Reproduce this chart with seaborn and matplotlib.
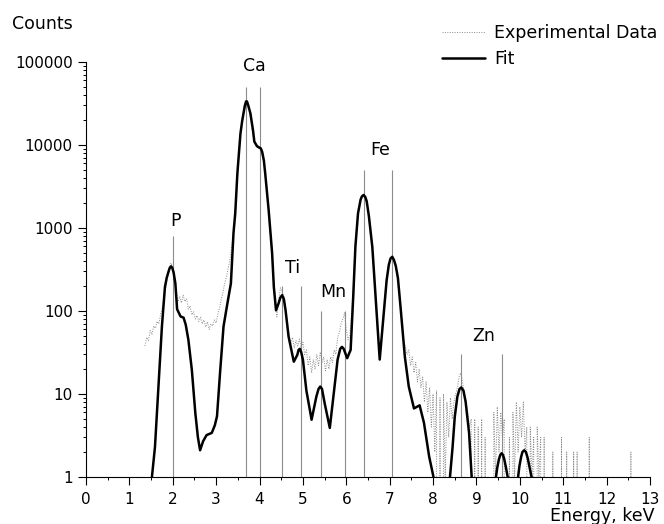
import matplotlib
matplotlib.use("Agg")
import matplotlib.pyplot as plt
import matplotlib.ticker as mticker
import numpy as np
import seaborn as sns

# ------------------ DATA ------------------
# experimental spectrum: channel counts, regular energy step
exp_start = 1.36   # keV
exp_step = 0.04    # keV per channel
exp_counts = [
    38, 48, 44, 58, 52, 66, 62, 75, 70, 92,                 # 1.36
    110, 150, 190, 260, 330, 380, 340, 250, 180, 130,       # 1.76
    150, 125, 155, 130, 140, 105, 115, 90, 98, 80,          # 2.16
    88, 75, 84, 70, 78, 64, 74, 60, 70, 66,                 # 2.56
    78, 72, 92, 110, 140, 170, 220, 260, 330, 420,          # 2.96
    600, 900, 1500, 3500, 7000, 13000, 20000, 27000, 33000, 33000,  # 3.36
    27000, 20000, 14000, 11000, 9800, 9300, 9000, 8500, 7000, 5000,  # 3.76
    3200, 1800, 1000, 520, 260, 120, 85, 130, 190, 170,     # 4.16
    150, 110, 75, 52, 40, 48, 36, 44, 38, 46,               # 4.56
    35, 42, 30, 34, 22, 28, 18, 26, 20, 30,                 # 4.96
    22, 32, 24, 28, 19, 26, 20, 28, 24, 34,                 # 5.36
    30, 48, 55, 70, 80, 95, 60, 45, 50, 90,                 # 5.76
    180, 520, 1000, 1600, 2100, 2400, 2500, 2300, 1800, 1300,  # 6.16
    800, 520, 260, 120, 55, 30, 40, 75, 140, 230,           # 6.56
    320, 400, 440, 440, 380, 300, 190, 120, 75, 45,         # 6.96
    38, 30, 34, 22, 28, 18, 24, 14, 20, 12,                 # 7.36
    16, 8, 14, 6, 12, 4, 10, 2, 11, 0,                      # 7.76
    9, 0, 10, 1, 8, 3, 9, 5, 8, 10,                         # 8.16
    12, 16, 18, 14, 10, 8, 6, 4, 5, 0,                      # 8.56
    5, 0, 4, 0, 5, 0, 3, 0, 0, 0,                           # 8.96
    0, 6, 1, 7, 2, 6, 3, 5, 0, 0,                           # 9.36
    3, 0, 6, 1, 8, 2, 7, 3, 8, 2,                           # 9.76
    4, 0, 4, 1, 3, 0, 4, 1, 3, 0,                           # 10.16
    3, 0, 0, 0, 0, 2, 0, 0, 0, 0,                           # 10.56
    3, 0, 0, 2, 0, 0, 0, 2, 0, 2,                           # 10.96
    0, 0, 0, 0, 0, 0, 3, 0, 0, 0,                           # 11.36
    0, 0, 0, 0, 0, 0, 0, 0, 0, 0,                           # 11.76
    0, 0, 0, 0, 0, 0, 0, 0, 0, 0,                           # 12.16
    2, 0,                                                   # 12.56
]

# fitted spectrum (keV, counts)
fit_energy = [1.45, 1.52, 1.59, 1.67, 1.75, 1.82, 1.86, 1.90, 1.93, 1.96,
              1.99, 2.02, 2.06, 2.10, 2.18, 2.25, 2.30, 2.36, 2.44, 2.52,
              2.58, 2.63, 2.70, 2.78, 2.90, 2.97, 3.02, 3.09, 3.17, 3.26,
              3.34, 3.40, 3.44, 3.49, 3.56, 3.60, 3.63, 3.66, 3.69, 3.71,
              3.74, 3.79, 3.85, 3.88, 3.94, 3.98, 4.03, 4.06, 4.10, 4.13,
              4.21, 4.29, 4.33, 4.38, 4.44, 4.48, 4.52, 4.56, 4.60, 4.67,
              4.79, 4.87, 4.90, 4.93, 4.96, 5.00, 5.08, 5.20, 5.31, 5.36,
              5.40, 5.44, 5.50, 5.62, 5.71, 5.80, 5.86, 5.90, 5.94, 6.02,
              6.10, 6.16, 6.21, 6.27, 6.33, 6.36, 6.40, 6.44, 6.47, 6.52,
              6.60, 6.67, 6.77, 6.85, 6.93, 6.98, 7.02, 7.06, 7.10, 7.14,
              7.19, 7.25, 7.35, 7.44, 7.56, 7.69, 7.79, 7.91, 8.01, 8.08,
              8.30, 8.39, 8.45, 8.50, 8.56, 8.61, 8.65, 8.70, 8.75, 8.83,
              8.89, 8.95, 9.40, 9.45, 9.48, 9.52, 9.55, 9.58, 9.61, 9.64,
              9.68, 9.72, 9.80, 9.90, 9.96, 9.99, 10.03, 10.06, 10.10, 10.14,
              10.18, 10.22, 10.27, 10.35]
fit_counts = [0.5, 1.0, 2.3, 12, 65, 195, 250, 295, 330, 345,
              330, 290, 215, 105, 86, 83, 68, 45, 19.5, 5.9,
              3.0, 2.1, 2.7, 3.2, 3.4, 4.2, 5.4, 18, 65, 124,
              215, 870, 1500, 4600, 13700, 19500, 24000, 29500, 33500, 33500,
              30000, 24000, 15000, 11000, 9700, 9400, 9100, 8300, 6500, 4600,
              1650, 500, 195, 102, 124, 145, 155, 140, 102, 49,
              24.5, 29.5, 34, 35, 32, 26, 11, 4.9, 9.3, 11.5,
              12.3, 11.5, 7.8, 3.9, 10, 26, 35, 37, 35, 27,
              34, 150, 600, 1500, 2200, 2400, 2500, 2350, 2100, 1400,
              590, 165, 26, 78, 235, 360, 430, 450, 410, 350,
              250, 112, 28, 12.3, 6.7, 7.3, 4.5, 1.76, 1.0, 0.4,
              0.4, 1.0, 2.3, 5.3, 9.3, 11.5, 12, 11, 8.1, 3.4,
              1.0, 0.4, 0.4, 1.0, 1.3, 1.65, 1.85, 1.93, 1.85, 1.65,
              1.3, 1.0, 0.4, 0.4, 1.0, 1.35, 1.75, 2.0, 2.1, 2.0,
              1.7, 1.35, 1.0, 0.4]

# element line markers
peak_energy = [2.01, 3.69, 4.02, 4.52, 4.95, 5.42, 5.96, 6.41, 7.05, 8.64, 9.58]
peak_height = [800, 50000, 50000, 200, 200, 100, 100, 5000, 5000, 30, 30]

elements = ["P", "Ca", "Ti", "Mn", "Fe", "Zn"]
element_x = [2.06, 3.89, 4.77, 5.69, 6.79, 9.17]
element_y = [1057, 78000, 288, 148, 7600, 43.6]

# ------------------ PLOT ------------------
sns.set_style("ticks")
plt.rcParams["font.family"] = ["DejaVu Sans"]
for key in ["text.color", "axes.labelcolor", "xtick.color", "ytick.color"]:
    plt.rcParams[key] = "black"

exp_energy = exp_start + exp_step * np.arange(len(exp_counts))

fig = plt.figure(figsize=(6.64, 5.24), dpi=100)
ax = fig.add_axes([0.1295, 0.0897, 0.8494, 0.7920])

ax.vlines(peak_energy, 1, peak_height, colors="#8c8c8c", linewidth=0.8, zorder=1)

sns.lineplot(x=exp_energy, y=exp_counts, estimator=None, sort=False, ax=ax,
             color="#8a8a8a", linewidth=0.7, linestyle=(0, (1, 1.5)),
             label="Experimental Data", zorder=2)
sns.lineplot(x=fit_energy, y=fit_counts, estimator=None, sort=False, ax=ax,
             color="black", linewidth=1.8, label="Fit", zorder=3)

ax.set_yscale("log")
ax.set_xlim(0, 13)
ax.set_ylim(1, 100000)

ax.set_xticks(range(0, 14))
ax.xaxis.set_minor_locator(mticker.MultipleLocator(0.5))
yt = [1, 10, 100, 1000, 10000, 100000]
ax.set_yticks(yt)
ax.set_yticklabels([str(v) for v in yt])
ax.yaxis.set_minor_locator(mticker.LogLocator(base=10, subs=np.arange(2, 10)))
ax.yaxis.set_minor_formatter(mticker.NullFormatter())

ax.tick_params(which="major", direction="out", length=5.5, width=0.8,
               labelsize=11, color="black", labelcolor="black")
ax.tick_params(which="minor", direction="out", length=2.5, width=0.7, color="black")
ax.tick_params(axis="x", pad=5)
ax.tick_params(axis="y", pad=4)

for s in ["top", "right"]:
    ax.spines[s].set_visible(False)
for s in ["left", "bottom"]:
    ax.spines[s].set_color("black")
    ax.spines[s].set_linewidth(0.8)

ax.set_xlabel("")
ax.set_ylabel("")

for name, x, y in zip(elements, element_x, element_y):
    ax.text(x, y, name, ha="center", va="baseline", fontsize=12.5, color="black")

fig.text(12 / 664, 1 - 29.3 / 524, "Counts", ha="left", va="baseline",
         fontsize=12.5, color="black")
fig.text(655 / 664, 1 - 521 / 524, "Energy, keV", ha="right", va="baseline",
         fontsize=12.5, color="black")

leg = ax.legend(loc="upper left", bbox_to_anchor=(442 / 664, 1 - 24 / 524),
                bbox_transform=fig.transFigure, frameon=False, fontsize=12.5,
                handlelength=2.5, handletextpad=0.5, labelspacing=0.45,
                borderpad=0, borderaxespad=0)
for t in leg.get_texts():
    t.set_color("black")

fig.savefig("out.png", dpi=100)
